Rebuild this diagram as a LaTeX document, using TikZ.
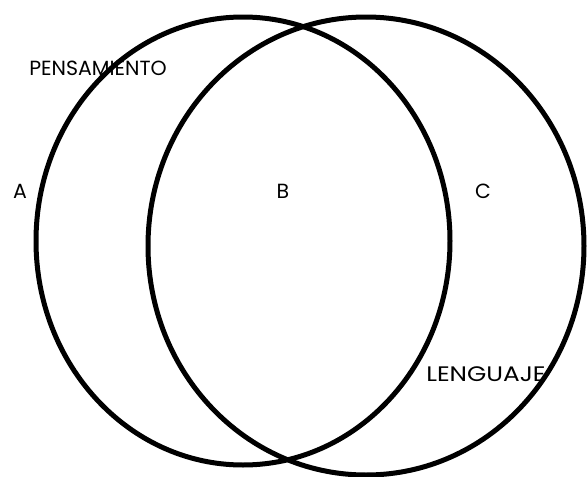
\documentclass[tikz,border=0pt]{standalone}
\usepackage{fontspec}
\setmainfont{Poppins}
\begin{document}
\begin{tikzpicture}[x=1pt,y=-1pt,
  venn/.style={draw=black,line width=5pt},
  lbl/.style={inner sep=0pt,font=\fontsize{20.5}{20.5}\selectfont},
  lblw/.style={inner sep=0pt,font=\fontsize{21}{21}\selectfont,xscale=1.18}]
\useasboundingbox (0,0) rectangle (587,477);
\clip (0,0) rectangle (587,477);
\draw[venn] (243,241) ellipse [x radius=207,y radius=224];
\draw[venn] (366,246) ellipse [x radius=218,y radius=229];
\node[lbl] (pens) at (98,68) {PENSAMIENTO};
\node[lblw] (leng) at (486,374) {LENGUAJE};
\node[lbl] (a) at (20,191) {A};
\node[lbl] (b) at (283,191) {B};
\node[lbl] (c) at (483,191) {C};
\end{tikzpicture}
\end{document}
